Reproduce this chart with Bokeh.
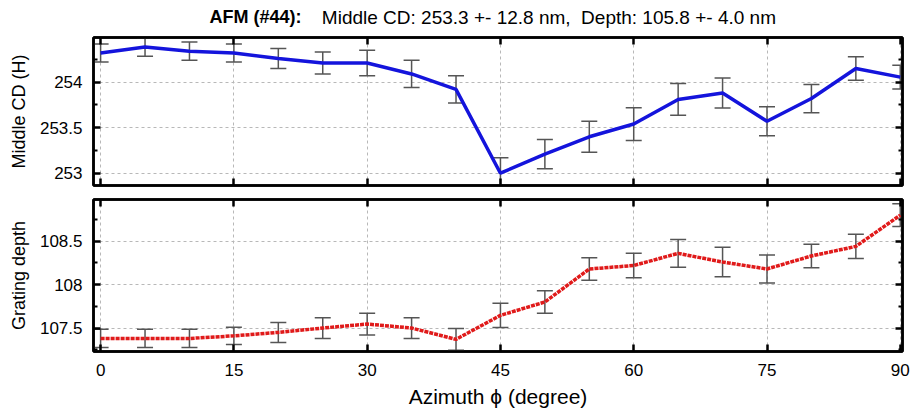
from bokeh.plotting import figure
from bokeh.layouts import column
from bokeh.models import (ColumnDataSource, Range1d, LinearAxis, FixedTicker,
                          Whisker, TeeHead, Label, CustomLabelingPolicy)
from bokeh.embed import file_html
from bokeh.resources import INLINE

# ---------------- data ----------------
azimuth = [0, 5, 10, 15, 20, 25, 30, 35, 40, 45, 50, 55, 60, 65, 70, 75, 80, 85, 90]
middle_cd = [254.32, 254.385, 254.34, 254.32, 254.26, 254.21, 254.21, 254.09, 253.92,
             253.00, 253.21, 253.40, 253.54, 253.81, 253.88, 253.57, 253.82, 254.15, 254.055]
middle_cd_err = [0.10, 0.10, 0.10, 0.10, 0.11, 0.12, 0.14, 0.15, 0.15,
                 0.17, 0.16, 0.17, 0.18, 0.175, 0.165, 0.16, 0.155, 0.13, 0.13]
depth = [107.38, 107.38, 107.38, 107.41, 107.45, 107.50, 107.546, 107.50, 107.37,
         107.646, 107.80, 108.18, 108.22, 108.36, 108.26, 108.18, 108.33, 108.44, 108.80]
depth_err = [0.105, 0.105, 0.105, 0.10, 0.115, 0.12, 0.125, 0.12, 0.125,
             0.14, 0.13, 0.13, 0.14, 0.16, 0.17, 0.16, 0.135, 0.14, 0.13]

x_ticks = [0, 15, 30, 45, 60, 75, 90]
cd_ticks = [253, 253.5, 254]
cd_minor = [253.25, 253.75, 254.25]
depth_ticks = [107.5, 108, 108.5]
depth_minor = [107.25, 107.75, 108.25, 108.75]

title_bold = "AFM (#44):"
title_rest = "Middle CD: 253.3 +- 12.8 nm,\u00a0 Depth: 105.8 +- 4.0 nm"
cd_label = "Middle CD (H)"
depth_label = "Grating depth"
x_label = "Azimuth \u03d5 (degree)"

FONT = "Liberation Sans"

x_range = Range1d(-0.8, 90.25)


def no_labels(ax):
    ax.major_label_policy = CustomLabelingPolicy(
        code="for (const i of indices) { indices.unset(i) }\nreturn indices")
    ax.major_label_standoff = 0
    ax.major_label_text_font_size = "0px"


def style_axes(p, yticks, yminor, show_x):
    p.outline_line_color = "black"
    p.outline_line_width = 2.5
    p.xgrid.ticker = FixedTicker(ticks=x_ticks)
    p.ygrid.ticker = FixedTicker(ticks=yticks)
    for g in (p.xgrid[0], p.ygrid[0]):
        g.grid_line_color = "#b8b8b8"
        g.grid_line_dash = "3 3"
        g.grid_line_width = 1
    xb = p.xaxis[0]
    yl = p.yaxis[0]
    xt = LinearAxis()
    yr = LinearAxis()
    p.add_layout(xt, "above")
    p.add_layout(yr, "right")
    for ax in (xb, xt):
        ax.ticker = FixedTicker(ticks=x_ticks)
    for ax in (yl, yr):
        ax.ticker = FixedTicker(ticks=yticks, minor_ticks=yminor)
    for ax in (xb, xt, yl, yr):
        ax.axis_line_color = "black"
        ax.axis_line_width = 2.5
        ax.major_tick_in = 7
        ax.major_tick_out = 0
        ax.major_tick_line_width = 2.5
        ax.major_tick_line_color = "black"
        ax.minor_tick_in = 4
        ax.minor_tick_out = 0
        ax.minor_tick_line_width = 2
        ax.minor_tick_line_color = "black"
        ax.major_label_text_font = FONT
        ax.major_label_text_font_size = "17px"
        ax.major_label_text_color = "black"
        ax.axis_label_text_font = FONT
        ax.axis_label_text_font_style = "normal"
        ax.axis_label_text_color = "black"
    for ax in (xb, xt):
        ax.minor_tick_line_color = None
    no_labels(xt)
    no_labels(yr)
    if not show_x:
        no_labels(xb)
    else:
        xb.major_label_standoff = 12
        xb.axis_label = x_label
        xb.axis_label_text_font_size = "21px"
        xb.axis_label_standoff = 6
    yl.major_label_standoff = 11
    yl.axis_label_text_font_size = "18px"
    yl.axis_label_standoff = 8


# ---------------- title strip ----------------
pt = figure(width=917, height=30, x_range=x_range, y_range=Range1d(0, 1),
            output_backend="svg", toolbar_location=None,
            x_axis_location=None, y_axis_location=None,
            min_border_left=93, min_border_right=15, min_border_top=0, min_border_bottom=0)
pt.outline_line_color = None
pt.xgrid.visible = False
pt.ygrid.visible = False
pt.add_layout(Label(x=22.6, y=0.45, text=title_bold, text_align="right",
                    text_baseline="middle", text_font=FONT, text_font_size="18px",
                    text_font_style="bold", text_color="black"))
pt.add_layout(Label(x=24.9, y=0.45, text=title_rest, text_align="left",
                    text_baseline="middle", text_font=FONT, text_font_size="19px",
                    text_color="black"))

# ---------------- top panel ----------------
src1 = ColumnDataSource(dict(
    x=azimuth, y=middle_cd,
    lo=[v - e for v, e in zip(middle_cd, middle_cd_err)],
    hi=[v + e for v, e in zip(middle_cd, middle_cd_err)]))

p1 = figure(width=917, height=162, x_range=x_range, y_range=Range1d(252.865, 254.49),
            output_backend="svg", toolbar_location=None,
            min_border_left=93, min_border_right=15, min_border_top=7, min_border_bottom=7)
style_axes(p1, cd_ticks, cd_minor, False)
p1.yaxis[0].axis_label = cd_label

w1 = Whisker(source=src1, base="x", upper="hi", lower="lo",
             line_color="#555555", line_width=1.5,
             upper_head=TeeHead(size=16, line_color="#555555", line_width=1.5),
             lower_head=TeeHead(size=16, line_color="#555555", line_width=1.5))
p1.add_layout(w1)
p1.line("x", "y", source=src1, line_color="#1414dc", line_width=3.5)

# ---------------- bottom panel ----------------
src2 = ColumnDataSource(dict(
    x=azimuth, y=depth,
    lo=[v - e for v, e in zip(depth, depth_err)],
    hi=[v + e for v, e in zip(depth, depth_err)]))

p2 = figure(width=917, height=222, x_range=x_range, y_range=Range1d(107.23, 108.98),
            output_backend="svg", toolbar_location=None,
            min_border_left=93, min_border_right=15, min_border_top=7, min_border_bottom=63)
style_axes(p2, depth_ticks, depth_minor, True)
p2.yaxis[0].axis_label = depth_label

w2 = Whisker(source=src2, base="x", upper="hi", lower="lo",
             line_color="#555555", line_width=1.5,
             upper_head=TeeHead(size=16, line_color="#555555", line_width=1.5),
             lower_head=TeeHead(size=16, line_color="#555555", line_width=1.5))
p2.add_layout(w2)
p2.line("x", "y", source=src2, line_color="#e01a1a", line_width=3.5, line_dash="4 1")

layout = column(pt, p1, p2, spacing=0)
open("out.html", "w").write(file_html(layout, INLINE))
